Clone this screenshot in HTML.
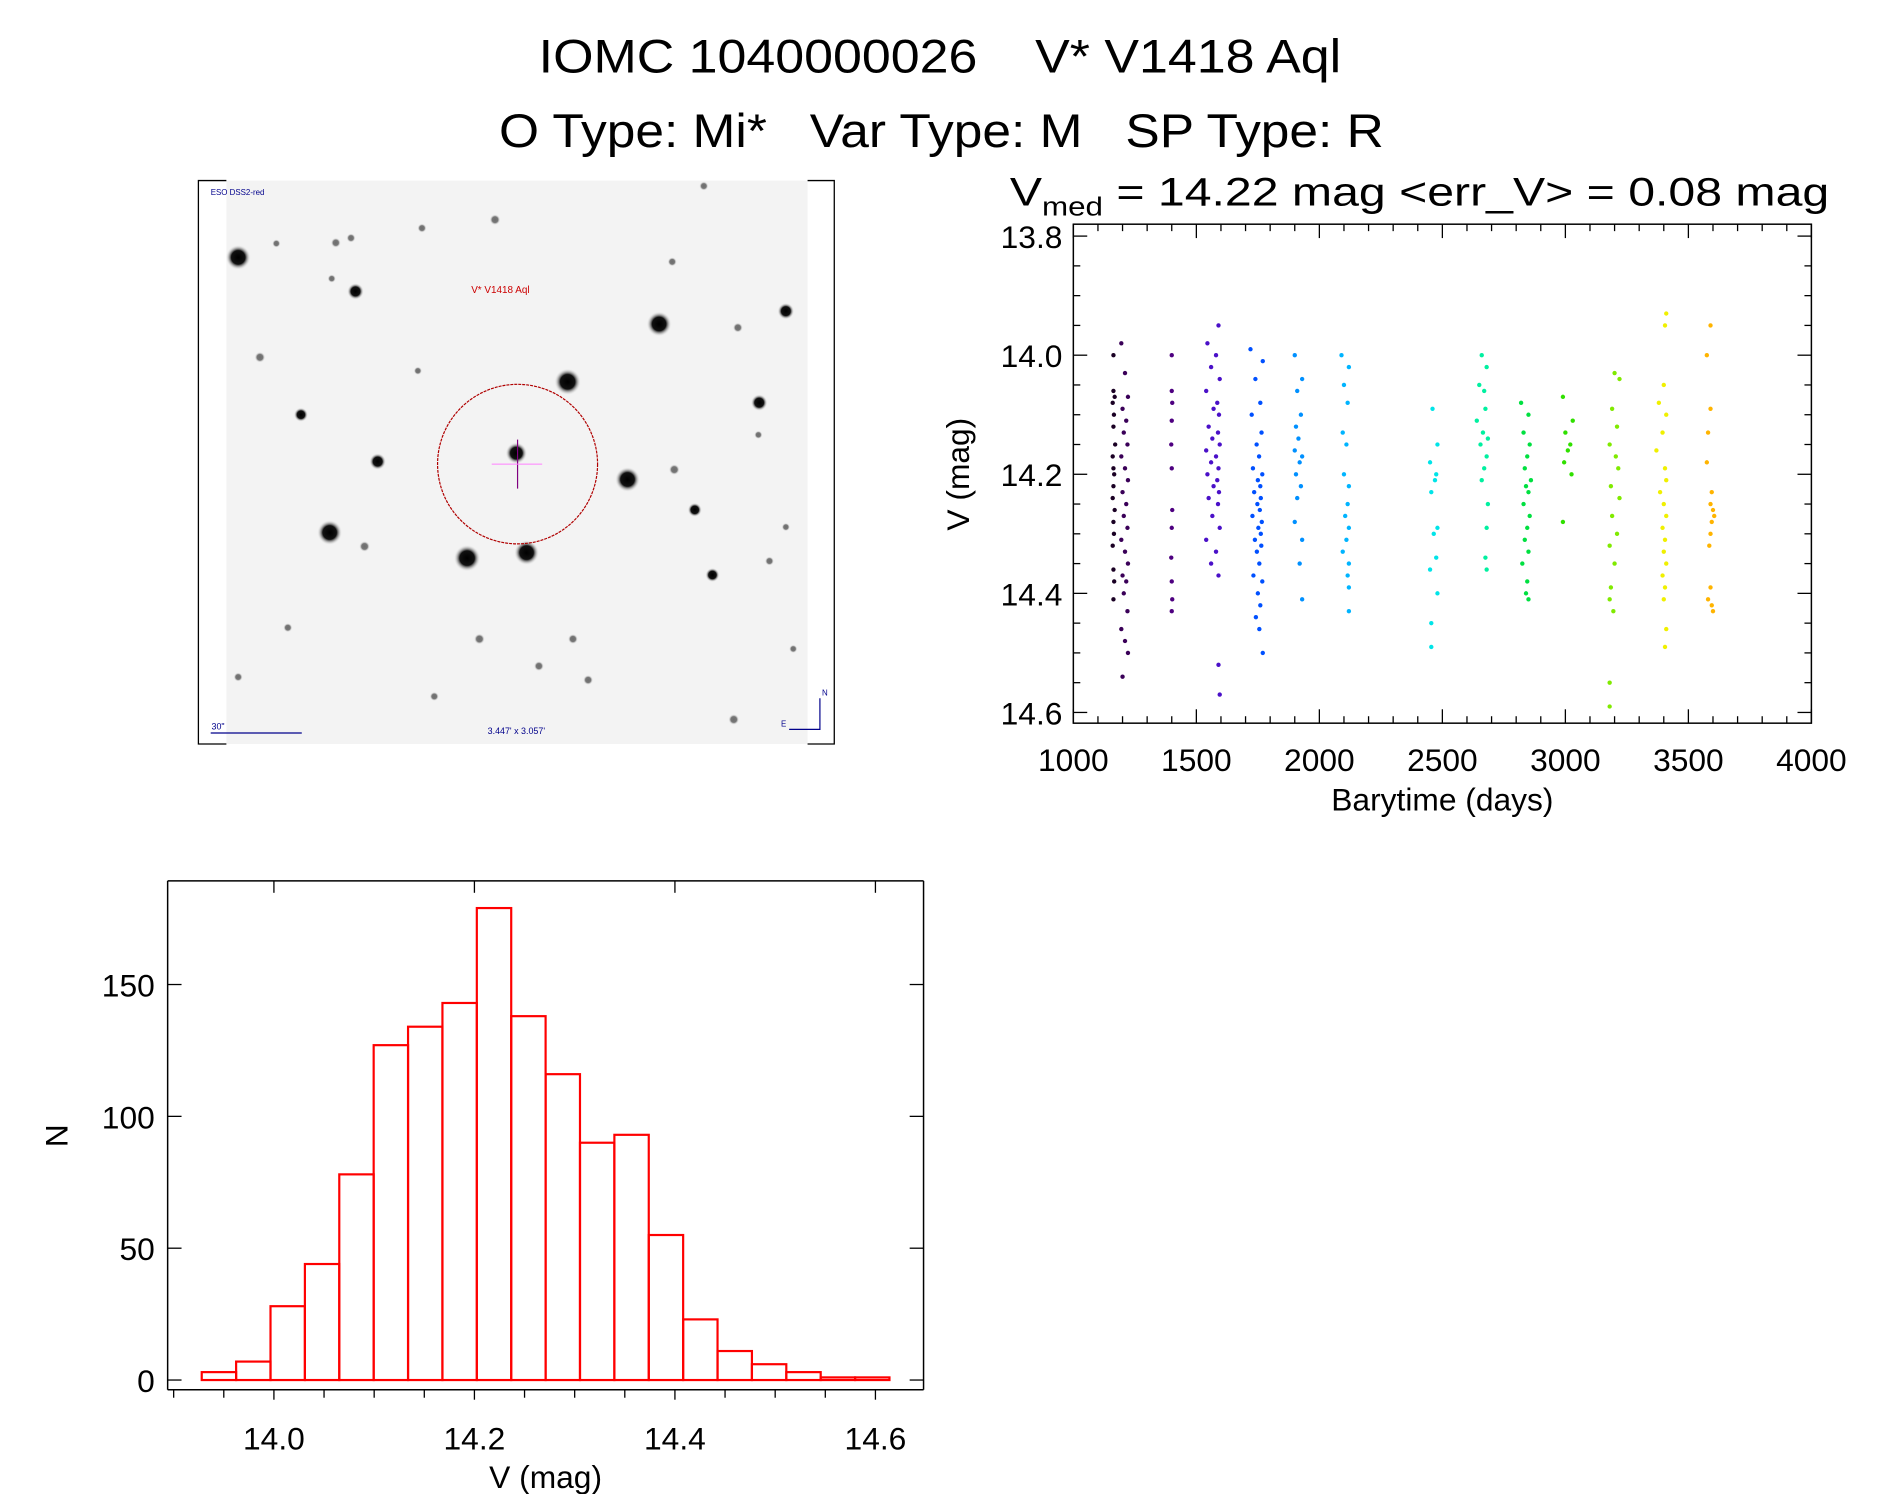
<!DOCTYPE html>
<html><head><meta charset="utf-8"><style>
html,body{margin:0;padding:0;background:#fff;}
svg{display:block;font-family:"Liberation Sans",sans-serif;}
</style></head><body>
<svg id="page" width="1889" height="1494" viewBox="0 0 1889 1494" xmlns="http://www.w3.org/2000/svg" xml:space="preserve">
<rect width="1889" height="1494" fill="#fff"/>
<g transform="scale(0.992)">
<text x="543" y="73" font-size="48" textLength="809" lengthAdjust="spacingAndGlyphs" fill="#000" xml:space="preserve">IOMC 1040000026    V* V1418 Aql</text>
<text x="503" y="148" font-size="48" textLength="892" lengthAdjust="spacingAndGlyphs" fill="#000" xml:space="preserve">O Type: Mi*   Var Type: M   SP Type: R</text>

<g id="img"></g>
<g id="lc"></g>
<g id="hist"></g>
</g>
</svg>
<script>
// ---------- Light curve data ----------
const seasonColors=['#1a0024','#3a0058','#4e0080','#4a10c8','#0050ff','#0090ff','#00b4ff','#00e4e8','#00f0a0','#00e040','#30e000','#80ea00','#f0f000','#ffb400'];
const seasonTimes=[
[1163,1163,1168,1160,1165,1163,1170,1160,1163,1166,1163,1160,1168,1163,1165,1160,1163,1166,1163],
[1195,1210,1222,1200,1215,1205,1220,1195,1210,1222,1200,1215,1205,1220,1195,1210,1222,1200,1215,1205,1220,1195,1210,1222,1200],
[1400,1400,1402,1400,1398,1400,1402,1400,1398,1400,1402,1400],
[1590,1545,1580,1560,1595,1540,1585,1570,1592,1550,1588,1565,1595,1540,1580,1560,1590,1545,1585,1570,1592,1550,1588,1565,1595,1540,1580,1560,1590,1590,1595],
[1720,1770,1740,1760,1725,1765,1745,1755,1730,1768,1750,1760,1735,1762,1748,1758,1728,1766,1752,1762,1738,1764,1746,1756,1732,1768,1750,1760,1742,1756,1770],
[1900,1930,1910,1925,1905,1915,1900,1930,1920,1905,1925,1910,1900,1930,1920,1930],
[2090,2120,2100,2115,2095,2110,2100,2120,2115,2105,2120,2110,2095,2120,2115,2120,2120],
[2460,2480,2450,2475,2470,2455,2480,2465,2475,2450,2480,2455,2455],
[2660,2680,2650,2670,2675,2640,2665,2685,2655,2680,2670,2660,2685,2680,2675,2680],
[2820,2850,2830,2855,2845,2835,2860,2840,2850,2830,2855,2845,2835,2850,2825,2845,2840,2850],
[2990,3030,3000,3020,3010,2995,3025,2990],
[3200,3220,3190,3210,3180,3205,3215,3185,3220,3190,3210,3180,3200,3185,3180,3195,3180,3180],
[3410,3405,3400,3380,3410,3395,3370,3405,3410,3385,3400,3410,3395,3405,3400,3410,3395,3405,3400,3410,3405],
[3590,3575,3590,3580,3575,3595,3590,3600,3605,3595,3590,3585,3590,3580,3595,3600]
];
const seasonMags=[
[14.00,14.06,14.07,14.08,14.10,14.12,14.15,14.17,14.19,14.20,14.22,14.24,14.26,14.28,14.30,14.32,14.36,14.38,14.41],
[13.98,14.03,14.07,14.09,14.11,14.13,14.15,14.17,14.19,14.21,14.23,14.25,14.27,14.29,14.31,14.33,14.35,14.37,14.38,14.40,14.43,14.46,14.48,14.50,14.54],
[14.00,14.06,14.08,14.11,14.15,14.19,14.26,14.29,14.34,14.38,14.41,14.43],
[13.95,13.98,14.00,14.02,14.04,14.06,14.08,14.09,14.10,14.12,14.13,14.14,14.15,14.16,14.17,14.18,14.19,14.20,14.21,14.22,14.23,14.24,14.25,14.27,14.29,14.31,14.33,14.35,14.37,14.52,14.57],
[13.99,14.01,14.04,14.08,14.10,14.13,14.15,14.17,14.19,14.20,14.21,14.22,14.23,14.24,14.25,14.26,14.27,14.28,14.29,14.30,14.31,14.32,14.33,14.35,14.37,14.38,14.40,14.42,14.44,14.46,14.50],
[14.00,14.04,14.06,14.10,14.12,14.14,14.16,14.17,14.18,14.20,14.22,14.24,14.28,14.31,14.35,14.41],
[14.00,14.02,14.05,14.08,14.13,14.15,14.20,14.22,14.25,14.27,14.29,14.31,14.33,14.35,14.37,14.39,14.43],
[14.09,14.15,14.18,14.20,14.21,14.23,14.29,14.30,14.34,14.36,14.40,14.45,14.49],
[14.00,14.02,14.05,14.06,14.09,14.11,14.13,14.14,14.15,14.17,14.19,14.21,14.25,14.29,14.34,14.36],
[14.08,14.10,14.13,14.15,14.17,14.19,14.21,14.22,14.23,14.25,14.27,14.29,14.31,14.33,14.35,14.38,14.40,14.41],
[14.07,14.11,14.13,14.15,14.16,14.18,14.20,14.28],
[14.03,14.04,14.09,14.12,14.15,14.17,14.19,14.22,14.24,14.27,14.30,14.32,14.35,14.39,14.41,14.43,14.55,14.59],
[13.93,13.95,14.05,14.08,14.10,14.13,14.16,14.19,14.21,14.23,14.25,14.27,14.29,14.31,14.33,14.35,14.37,14.39,14.41,14.46,14.49],
[13.95,14.00,14.09,14.13,14.18,14.23,14.25,14.26,14.27,14.28,14.30,14.32,14.39,14.41,14.42,14.43]
];
const lcXTicks=[1000,1500,2000,2500,3000,3500,4000];
const lcYTicks=[13.8,14.0,14.2,14.4,14.6];

// ---------- Histogram data ----------
const histStart=13.928, histWidth=0.0343;
const histCounts=[3,7,28,44,78,127,134,143,179,138,116,90,93,55,23,11,6,3,1,1];
const histXTicks=[14.0,14.2,14.4,14.6];
const histYTicks=[0,50,100,150];

const NS='http://www.w3.org/2000/svg';
function mk(tag,attrs,parent){const e=document.createElementNS(NS,tag);for(const k in attrs)e.setAttribute(k,attrs[k]);parent.appendChild(e);return e;}

// ---------- Light curve ----------
(function(){
const g=document.getElementById('lc');
const L=1082,R=1826,T=226,B=729;
const x0=1000,x1=4000,y0=13.78,y1=14.618;
const sx=v=>L+(v-x0)/(x1-x0)*(R-L);
const sy=v=>T+(v-y0)/(y1-y0)*(B-T);
seasonMags.forEach((ms,s)=>{
  ms.forEach((m,i)=>{
    const p=mk('circle',{cx:sx(seasonTimes[s][i]),cy:sy(m),r:2.2,fill:seasonColors[s]},g);
    
    
  });
});
const fr=mk('rect',{x:L,y:T,width:R-L,height:B-T,fill:'none',stroke:'#000','stroke-width':1.5},g);

for(let v=1000;v<=4000;v+=100){const maj=v%500===0;const len=maj?14:7;
  mk('line',{x1:sx(v),x2:sx(v),y1:B,y2:B-len,stroke:'#000','stroke-width':1.3},g);
  mk('line',{x1:sx(v),x2:sx(v),y1:T,y2:T+len,stroke:'#000','stroke-width':1.3},g);}
for(let k=0;k<=16;k++){const v=13.8+k*0.05;const maj=k%4===0;const len=maj?14:7;
  mk('line',{x1:L,x2:L+len,y1:sy(v),y2:sy(v),stroke:'#000','stroke-width':1.3},g);
  mk('line',{x1:R,x2:R-len,y1:sy(v),y2:sy(v),stroke:'#000','stroke-width':1.3},g);}
lcXTicks.forEach(v=>{const t=mk('text',{x:sx(v),y:777,'font-size':32,'text-anchor':'middle'},g);t.textContent=v;
  });
lcYTicks.forEach(v=>{const t=mk('text',{x:1071,y:sy(v)+12,'font-size':32,'text-anchor':'end'},g);t.textContent=v.toFixed(1);
  });
let t=mk('text',{x:1454,y:817,'font-size':32,'text-anchor':'middle'},g);t.textContent='Barytime (days)';

t=mk('text',{x:977,y:478,'font-size':32,'text-anchor':'middle',transform:'rotate(-90 977 478)'},g);t.textContent='V (mag)';

t=mk('text',{x:1018,y:207,'font-size':40},g);
t.innerHTML='V<tspan font-size="26" dy="10">med</tspan><tspan dy="-10">  =  14.22  mag  &lt;err_V&gt;  =  0.08  mag</tspan>';
t.setAttribute('textLength','826');t.setAttribute('lengthAdjust','spacingAndGlyphs');

})();

// ---------- Histogram ----------
(function(){
const g=document.getElementById('hist');
const L=169,R=931,T=888,B=1401;
const x0=13.894,x1=14.648,y0=-3.7,y1=189.3;
const sx=v=>L+(v-x0)/(x1-x0)*(R-L);
const sy=v=>B-(v-y0)/(y1-y0)*(B-T);
histCounts.forEach((c,i)=>{
  const a=sx(histStart+i*histWidth),b=sx(histStart+(i+1)*histWidth);
  const r=mk('rect',{x:a,y:sy(c),width:b-a,height:sy(0)-sy(c),fill:'none',stroke:'#ff0000','stroke-width':2.2},g);
  
});
mk('line',{x1:L,x2:R,y1:B,y2:B,stroke:'#000','stroke-width':1.5},g);
mk('line',{x1:L,x2:R,y1:T,y2:T,stroke:'#000','stroke-width':1.5},g);
mk('line',{x1:L,x2:L,y1:T,y2:B,stroke:'#000','stroke-width':1.5},g);
mk('line',{x1:R,x2:R,y1:T,y2:B,stroke:'#000','stroke-width':1.5},g);
for(let k=-2;k<=13;k++){const v=14.0+k*0.05;if(v<x0||v>x1)continue;const maj=k%4===0;
  mk('line',{x1:sx(v),x2:sx(v),y1:B,y2:B+(maj?10:8),stroke:'#000','stroke-width':1.3},g);
  if(maj)mk('line',{x1:sx(v),x2:sx(v),y1:T,y2:T+12,stroke:'#000','stroke-width':1.3},g);}
histYTicks.forEach(v=>{
  mk('line',{x1:L,x2:L+14,y1:sy(v),y2:sy(v),stroke:'#000','stroke-width':1.3},g);
  mk('line',{x1:R,x2:R-14,y1:sy(v),y2:sy(v),stroke:'#000','stroke-width':1.3},g);
  const t=mk('text',{x:156,y:sy(v)+12,'font-size':32,'text-anchor':'end'},g);t.textContent=v;
  });
histXTicks.forEach(v=>{const t=mk('text',{x:sx(v),y:1461,'font-size':32,'text-anchor':'middle'},g);t.textContent=v.toFixed(1);
  });
let t=mk('text',{x:550,y:1500,'font-size':32,'text-anchor':'middle'},g);t.textContent='V (mag)';

t=mk('text',{x:68,y:1145,'font-size':32,'text-anchor':'middle',transform:'rotate(-90 68 1145)'},g);t.textContent='N';

})();

// ---------- Finder image ----------
(function(){
const g=document.getElementById('img');
const FX=200,FY=182,FW=641,FH=568;
const px=f=>FX+f*FW, py=f=>FY+f*FH;
mk('rect',{x:px(0.044),y:FY,width:FW*(0.958-0.044),height:FH,fill:'#f3f3f3'},g);
const defs=mk('defs',{},g);
const rg=mk('radialGradient',{id:'star'},defs);
mk('stop',{offset:'0','stop-color':'#000'},rg);mk('stop',{offset:'0.55','stop-color':'#111'},rg);
mk('stop',{offset:'1','stop-color':'#f3f3f3','stop-opacity':'0'},rg);
const stars=[[97,210,3],[383,303,2],[1123,392,3],[900,550,3.2],[1432,357,2],[1367,607,2],[775,745,2.6],[1046,817,3],[437,768,2],[320,962,3],[655,1032,3.2],[800,1017,3],[1210,900,1.7],[1253,1078,1.7],[250,640,1.7],[150,483,1.3],[335,170,1.2],[723,107,1.3],[545,130,1.1],[405,1000,1.3],[685,1253,1.3],[913,1253,1.2],[830,1327,1.2],[950,1365,1.2],[1305,1473,1.3],[1160,790,1.3],[1315,402,1.2],[1155,222,1.1],[1232,15,1.1],[1392,1040,1.1],[218,1222,1.1],[97,1357,1.1],[575,1410,1.1],[190,172,1],[372,157,1.1],[325,268,1],[535,520,1],[1365,695,1],[1432,947,1],[1450,1280,1]];
stars.forEach(s=>{const c=mk('circle',{cx:px(s[0]/1550),cy:py(s[1]/1540),r:s[2]*4.2,fill:'url(#star)',opacity:s[2]<1.5?0.55:1},g);
  });
mk('ellipse',{cx:px(778/1550),cy:py(775/1540),rx:FW*(195/1550),ry:FH*(218/1540),fill:'none',stroke:'#b00000','stroke-width':1.2,'stroke-dasharray':'3 1'},g);
mk('line',{x1:px(778/1550),x2:px(778/1550),y1:py(708/1540),y2:py(842/1540),stroke:'#800080','stroke-width':1.2},g);
mk('line',{x1:px(715/1550),x2:px(838/1550),y1:py(775/1540),y2:py(775/1540),stroke:'#ff80ff','stroke-width':1},g);
let t=mk('text',{x:px(665/1550),y:py(308/1540),'font-size':10,fill:'#cc0000'},g);t.textContent='V* V1418 Aql';

t=mk('text',{x:px(30/1550),y:py(40/1540),'font-size':8,fill:'#00008b'},g);t.textContent='ESO DSS2-red';

t=mk('text',{x:px(32/1550),y:py(1500/1540),'font-size':9,fill:'#00008b'},g);t.textContent='30"';

mk('line',{x1:px(30/1550),x2:px(252/1550),y1:py(1510/1540),y2:py(1510/1540),stroke:'#00008b','stroke-width':1.2},g);
t=mk('text',{x:px(775/1550),y:py(1512/1540),'font-size':9,fill:'#00008b','text-anchor':'middle'},g);t.textContent='3.447\' x 3.057\'';

mk('polyline',{points:`${px(1440/1550)},${py(1500/1540)} ${px(1515/1550)},${py(1500/1540)} ${px(1515/1550)},${py(1415/1540)}`,fill:'none',stroke:'#00008b','stroke-width':1.2},g);
t=mk('text',{x:px(1520/1550),y:py(1408/1540),'font-size':8,fill:'#00008b'},g);t.textContent='N';
t=mk('text',{x:px(1420/1550),y:py(1492/1540),'font-size':8,fill:'#00008b'},g);t.textContent='E';
mk('polyline',{points:`${px(0.044)},${FY} ${FX},${FY} ${FX},${FY+FH} ${px(0.044)},${FY+FH}`,fill:'none',stroke:'#000','stroke-width':1.3},g);
mk('polyline',{points:`${px(0.958)},${FY} ${FX+FW},${FY} ${FX+FW},${FY+FH} ${px(0.958)},${FY+FH}`,fill:'none',stroke:'#000','stroke-width':1.3},g);
})();
</script>
</body></html>
